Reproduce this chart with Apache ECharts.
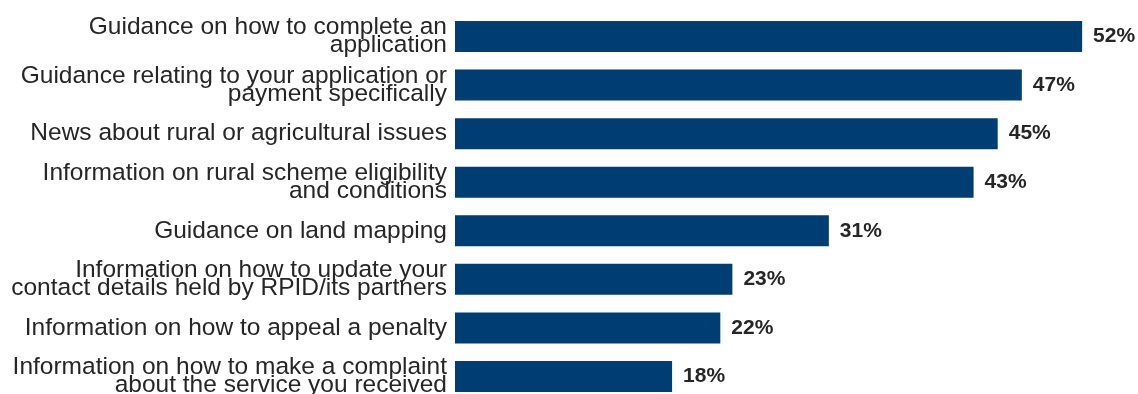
<!DOCTYPE html>
<html>
<head>
<meta charset="utf-8">
<script src="https://cdn.jsdelivr.net/npm/echarts@6/dist/echarts.min.js"></script>
<style>
  html, body { margin: 0; padding: 0; background: #ffffff; }
  #chart { width: 1138px; height: 394px; }
</style>
</head>
<body>
<div id="chart"></div>
<script>
// Topics of information respondents would like to receive (share of respondents, %)
const categories = [
  "Guidance on how to complete an\napplication",
  "Guidance relating to your application or\npayment specifically",
  "News about rural or agricultural issues",
  "Information on rural scheme eligibility\nand conditions",
  "Guidance on land mapping",
  "Information on how to update your\ncontact details held by RPID/its partners",
  "Information on how to appeal a penalty",
  "Information on how to make a complaint\nabout the service you received"
];
const values = [52, 47, 45, 43, 31, 23, 22, 18];

const chart = echarts.init(document.getElementById('chart'), null, { renderer: 'canvas' });

chart.setOption({
  animation: false,
  grid: {
    left: 455,
    top: 12.2,
    width: 723.6,
    height: 388.6,
    outerBoundsMode: 'none'
  },
  xAxis: {
    type: 'value',
    min: 0,
    max: 60,
    show: false
  },
  yAxis: {
    type: 'category',
    inverse: true,
    data: categories,
    axisLine: { show: false },
    axisTick: { show: false },
    splitLine: { show: false },
    axisLabel: {
      margin: 8,
      color: '#262626',
      fontFamily: 'Liberation Sans',
      fontSize: 24.5,
      lineHeight: 18,
      align: 'right'
    }
  },
  series: [{
    type: 'bar',
    data: values,
    barWidth: 31,
    itemStyle: { color: '#003d73' },
    label: {
      show: true,
      position: 'right',
      distance: 11,
      formatter: '{c}%',
      color: '#262626',
      fontFamily: 'Liberation Sans',
      fontWeight: 'bold',
      fontSize: 21
    }
  }]
});
</script>
</body>
</html>
